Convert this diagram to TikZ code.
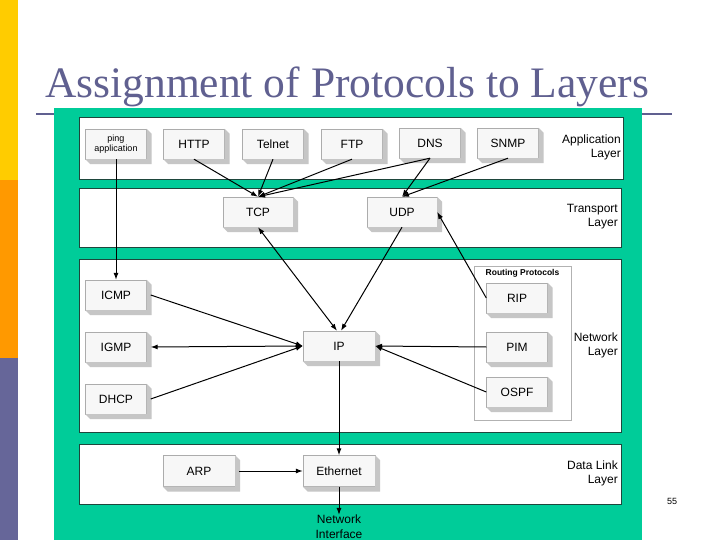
\documentclass[tikz,border=0pt]{standalone}
\usepackage{fontspec}
\setmainfont{Liberation Sans}
\newfontfamily\titlefont{Liberation Serif}
\usetikzlibrary{arrows.meta}

\definecolor{slidegreen}{RGB}{0,204,153}
\definecolor{slideslate}{RGB}{96,96,144}
\definecolor{baryellow}{RGB}{255,204,0}
\definecolor{barorange}{RGB}{255,153,0}
\definecolor{barpurple}{RGB}{102,102,153}
\definecolor{bandline}{RGB}{30,70,60}

\begin{document}
\begin{tikzpicture}[x=1pt,y=-1pt,
	proto/.style={draw=gray!65, fill=gray!6, minimum width=61, minimum height=30, inner sep=0, font=\fontsize{12}{14}\selectfont},
	layername/.style={align=right, anchor=east, inner sep=0, font=\fontsize{12}{14}\selectfont},
	link/.style={-{Latex[length=7pt,width=5pt]}, line width=1pt},
	twolink/.style={{Latex[length=7pt,width=5pt]}-{Latex[length=7pt,width=5pt]}, line width=1pt}]
	\useasboundingbox (0,0) rectangle (720,540);
	\fill[white] (0,0) rectangle (720,540);
	\fill[baryellow] (0,0) rectangle (18,180);
	\fill[barorange] (0,180) rectangle (18,358);
	\fill[barpurple] (0,358) rectangle (18,540);
	\draw[slideslate, line width=2pt] (36,114) -- (672,114);
	\fill[slidegreen] (54,108) rectangle (642,540);
	\node[anchor=base west, inner sep=0, text=slideslate, font=\titlefont\fontsize{43.5}{50}\selectfont] (title) at (45,98) {Assignment of Protocols to Layers};
	% layers
	\filldraw[fill=white, draw=bandline, line width=0.8pt] (79,117) rectangle (623,179);
	\filldraw[fill=white, draw=bandline, line width=0.8pt] (79,188) rectangle (621,247);
	\filldraw[fill=white, draw=bandline, line width=0.8pt] (79,259) rectangle (621,432);
	\filldraw[fill=white, draw=bandline, line width=0.8pt] (79,444) rectangle (621,504);
	\node[layername] (applbl) at (621,147) {Application\\Layer};
	\node[layername] (translbl) at (618,217) {Transport\\Layer};
	\node[layername] (netlbl) at (618,345) {Network\\Layer};
	\node[layername] (linklbl) at (618,473) {Data Link\\Layer};
	\node[draw=gray!60, fill=white, minimum width=97, minimum height=154, inner sep=0] (routing) at (522.5,343) {};
	\node[font=\bfseries\fontsize{8.5}{10}\selectfont, inner sep=0] (routinglbl) at (522.5,273) {Routing Protocols};
	% protocols
	\node[proto, font=\fontsize{9}{10.5}\selectfont, align=center] (ping) at (116,144) {ping\\application};
	\node[proto] (http) at (194,144) {HTTP};
	\node[proto] (telnet) at (273,144) {Telnet};
	\node[proto] (ftp) at (352,144) {FTP};
	\node[proto] (dns) at (430,143) {DNS};
	\node[proto] (snmp) at (508,143) {SNMP};
	\node[proto, minimum width=70] (tcp) at (258,212) {TCP};
	\node[proto, minimum width=70] (udp) at (402,212) {UDP};
	\node[proto] (icmp) at (116,295) {ICMP};
	\node[proto] (igmp) at (116,347) {IGMP};
	\node[proto] (dhcp) at (116,399) {DHCP};
	\node[proto, minimum width=72] (ip) at (339,346) {IP};
	\node[proto] (rip) at (517,298) {RIP};
	\node[proto] (pim) at (517,347) {PIM};
	\node[proto] (ospf) at (517,392) {OSPF};
	\node[proto, minimum width=72, minimum height=31] (arp) at (199,471) {ARP};
	\node[proto, minimum width=72, minimum height=31] (eth) at (339,471) {Ethernet};
	\foreach \n in {ping,http,telnet,ftp,dns,snmp,tcp,udp,icmp,igmp,dhcp,ip,rip,pim,ospf,arp,eth}
	{
		\fill[gray!45] (\n.north east) -- ([shift={(5,5)}]\n.north east) -- ([shift={(5,5)}]\n.south east) -- ([shift={(5,5)}]\n.south west) -- (\n.south west) -- (\n.south east) -- cycle;
	}
	\node[inner sep=0, align=center, font=\fontsize{12}{15}\selectfont] (netif) at (339,527) {Network\\Interface};
	\node[inner sep=0, font=\fontsize{9}{10}\selectfont] (pagenum) at (672,501) {55};
	% connectors
	\draw[link] (ping.south) -- (icmp.north);
	\draw[link] (http.south) -- (tcp.north);
	\draw[link] (telnet.south) -- (tcp.north);
	\draw[link] (ftp.south) -- (tcp.north);
	\draw[link] (dns.south) -- (tcp.north);
	\draw[link] (dns.south) -- (udp.north);
	\draw[link] (snmp.south) -- (udp.north);
	\draw[twolink] (tcp.south) -- ([xshift=-2]ip.north);
	\draw[link] (udp.south) -- ([xshift=2]ip.north);
	\draw[link] (rip.west) -- (udp.east);
	\draw[link] (pim.west) -- (ip.east);
	\draw[link] (ospf.west) -- (ip.east);
	\draw[link] ([xshift=4]icmp.east) -- (ip.west);
	\draw[twolink] ([xshift=4]igmp.east) -- (ip.west);
	\draw[link] ([xshift=4]dhcp.east) -- (ip.west);
	\draw[link] (ip.south) -- (eth.north);
	\draw[link] ([xshift=4]arp.east) -- (eth.west);
	\draw[link] (eth.south) -- (netif.north);
\end{tikzpicture}
\end{document}
